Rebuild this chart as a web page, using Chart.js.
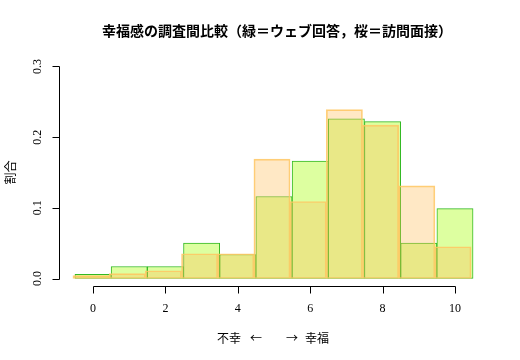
<!DOCTYPE html>
<html>
<head>
<meta charset="utf-8">
<script src="https://cdn.jsdelivr.net/npm/chart.js@4/dist/chart.umd.min.js"></script>
<style>
  html, body { margin: 0; padding: 0; background: #fff; }
  #wrap { width: 520px; height: 360px; }
</style>
</head>
<body>
<div id="wrap"><canvas id="myChart" width="520" height="360"></canvas></div>
<script>
// data
const scores = [0, 1, 2, 3, 4, 5, 6, 7, 8, 9, 10];
const webShare = [0.006, 0.017, 0.017, 0.050, 0.034, 0.116, 0.166, 0.226, 0.222, 0.050, 0.099];
const visitShare = [0.004, 0.007, 0.011, 0.035, 0.035, 0.169, 0.109, 0.239, 0.217, 0.131, 0.045];
const xTicks = [0, 2, 4, 6, 8, 10];
const yTicks = [0, 0.1, 0.2, 0.3];

const titleText = '幸福感の調査間比較（緑＝ウェブ回答，桜＝訪問面接）';
// x title pieces: 不幸 ←   → 幸福 (with a wide gap in the middle)
const xTitleParts = ['不幸', '←', '→', '幸福'];
const yTitle = '割合';

const serif = '"Liberation Serif", "DejaVu Serif", serif';
const cjk = '"Noto Sans CJK JP", "Noto Sans", sans-serif';

// the peach bars are drawn a couple of pixels left of the green ones
const shiftPeach = {
    id: 'shiftPeach',
    beforeDatasetDraw(chart, args) {
        if (args.index === 1) {
            chart.ctx.save();
            chart.ctx.translate(-2, 0);
        }
    },
    afterDatasetDraw(chart, args) {
        if (args.index === 1) chart.ctx.restore();
    }
};

// R-style axes: lines only over the tick range, detached from the plot box
const rAxes = {
    id: 'rAxes',
    afterDraw(chart) {
        const ctx = chart.ctx;
        const xs = chart.scales.x, ys = chart.scales.y;
        const area = chart.chartArea;
        ctx.save();
        ctx.strokeStyle = '#000';
        ctx.fillStyle = '#000';
        ctx.lineWidth = 1;

        // x axis
        const axY = Math.round(area.bottom) - 0.5;
        ctx.beginPath();
        ctx.moveTo(Math.round(xs.getPixelForValue(xTicks[0])) + 0.5, axY);
        ctx.lineTo(Math.round(xs.getPixelForValue(xTicks[xTicks.length - 1])) + 0.5, axY);
        xTicks.forEach(t => {
            const px = Math.round(xs.getPixelForValue(t)) + 0.5;
            ctx.moveTo(px, axY);
            ctx.lineTo(px, axY + 7);
        });
        ctx.stroke();
        ctx.font = '12px ' + serif;
        ctx.textAlign = 'center';
        ctx.textBaseline = 'middle';
        xTicks.forEach(t => {
            ctx.fillText(String(t), xs.getPixelForValue(t), axY + 22);
        });

        // y axis
        const axX = Math.round(area.left) + 0.5;
        ctx.beginPath();
        ctx.moveTo(axX, Math.round(ys.getPixelForValue(yTicks[0])) + 0.5);
        ctx.lineTo(axX, Math.round(ys.getPixelForValue(yTicks[yTicks.length - 1])) + 0.5);
        yTicks.forEach(t => {
            const py = Math.round(ys.getPixelForValue(t)) + 0.5;
            ctx.moveTo(axX, py);
            ctx.lineTo(axX - 7, py);
        });
        ctx.stroke();
        yTicks.forEach(t => {
            ctx.save();
            ctx.translate(axX - 22, ys.getPixelForValue(t));
            ctx.rotate(-Math.PI / 2);
            ctx.fillText(t.toFixed(1), 0, 0);
            ctx.restore();
        });

        // titles
        ctx.font = 'bold 14px ' + cjk;
        ctx.fillText(titleText, 277, 31);
        ctx.font = '12px ' + cjk;
        const partX = [229, 256, 292, 317];
        xTitleParts.forEach((p, i) => ctx.fillText(p, partX[i], 338));
        ctx.save();
        ctx.translate(10, (area.top + area.bottom) / 2);
        ctx.rotate(-Math.PI / 2);
        ctx.fillText(yTitle, 0, 0);
        ctx.restore();
        ctx.restore();
    }
};

const data = {
    datasets: [{
        label: 'ウェブ回答',
        data: scores.map((s, i) => ({ x: s, y: webShare[i] })),
        backgroundColor: 'rgb(221, 255, 160)',
        borderColor: 'rgb(50, 185, 35)',
        borderWidth: 1,
        borderSkipped: false,
        order: 1
    }, {
        label: '訪問面接',
        data: scores.map((s, i) => ({ x: s, y: visitShare[i] })),
        backgroundColor: 'rgba(255, 190, 90, 0.35)',
        borderColor: 'rgba(255, 200, 100, 0.85)',
        borderWidth: 1,
        borderSkipped: false,
        order: 0
    }]
};

const config = {
    type: 'bar',
    data,
    options: {
        responsive: false,
        animation: false,
        layout: {
            padding: { left: 59, right: 31, top: 58, bottom: 73 }
        },
        datasets: {
            bar: {
                grouped: false,
                barPercentage: 1,
                categoryPercentage: 1
            }
        },
        plugins: {
            legend: { display: false },
            title: { display: false },
            tooltip: { enabled: false }
        },
        scales: {
            x: {
                type: 'linear',
                display: false,
                min: -0.94,
                max: 10.94,
                offset: false
            },
            y: {
                display: false,
                min: -0.012,
                max: 0.312
            }
        }
    },
    plugins: [shiftPeach, rAxes]
};

const myChart = new Chart(document.getElementById('myChart'), config);
</script>
</body>
</html>
